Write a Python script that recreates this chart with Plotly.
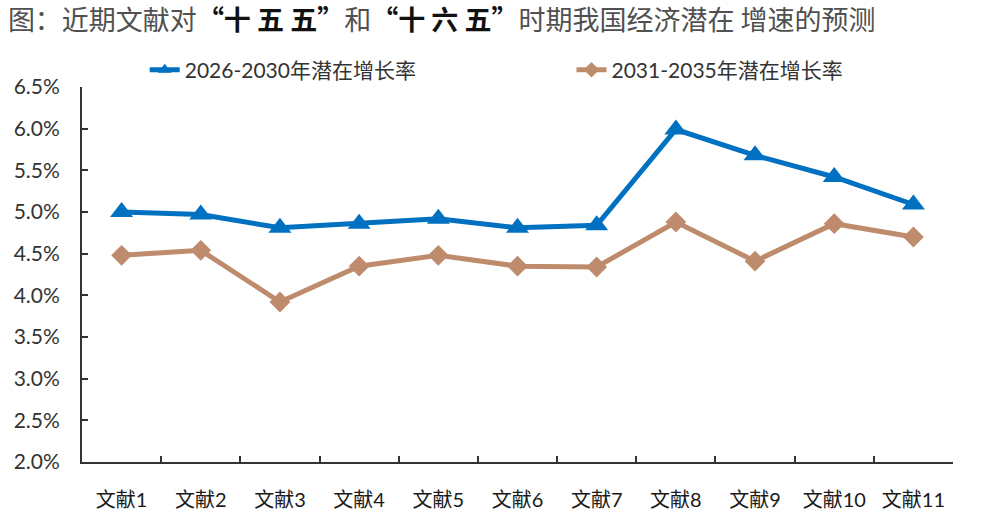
import plotly.graph_objects as go

categories = ["文献1", "文献2", "文献3", "文献4", "文献5", "文献6", "文献7", "文献8", "文献9", "文献10", "文献11"]
series_2026_2030 = [5.00, 4.97, 4.81, 4.86, 4.92, 4.81, 4.84, 5.99, 5.68, 5.42, 5.09]
series_2031_2035 = [4.48, 4.54, 3.92, 4.35, 4.48, 4.35, 4.34, 4.88, 4.41, 4.86, 4.70]
name_a = "2026-2030年潜在增长率"
name_b = "2031-2035年潜在增长率"
y_ticks = [2.0, 2.5, 3.0, 3.5, 4.0, 4.5, 5.0, 5.5, 6.0, 6.5]

BLUE = "#0070C0"
BROWN = "#BF8B6D"
FONT = "Lato, 'Noto Sans CJK SC', sans-serif"

fig = go.Figure()
fig.add_trace(go.Scatter(
    x=categories, y=[v / 100 for v in series_2026_2030], name=name_a,
    mode="lines+markers",
    line=dict(color=BLUE, width=5),
    marker=dict(symbol="triangle-up", size=20, color=BLUE),
    legend="legend",
))
fig.add_trace(go.Scatter(
    x=categories, y=[v / 100 for v in series_2031_2035], name=name_b,
    mode="lines+markers",
    line=dict(color=BROWN, width=5),
    marker=dict(symbol="diamond", size=16, color=BROWN),
    legend="legend2",
))

title_text = ("图：近期文献对<b style='color:#111'>“十 五 五”</b>和<b style='color:#111'>“十 六 五”</b>"
              "时期我国经济潜在 增速的预测")

legend_common = dict(orientation="h", yanchor="middle", xanchor="left",
                     font=dict(family=FONT, size=21, color="#333333"),
                     bgcolor="rgba(0,0,0,0)", itemsizing="constant")

fig.update_layout(
    width=985, height=515,
    paper_bgcolor="white", plot_bgcolor="white",
    margin=dict(l=82, r=32, t=87, b=53, autoexpand=False),
    font=dict(family=FONT, size=18, color="#333333"),
    title=dict(text=title_text, x=0.008, xanchor="left", y=0.96, yanchor="middle",
               font=dict(family="'Noto Sans CJK SC', sans-serif", size=27, color="#505050")),
    showlegend=True,
    legend=dict(x=0.072, y=1.045, **legend_common),
    legend2=dict(x=0.562, y=1.045, **legend_common),
    xaxis=dict(
        type="category", range=[-0.5, 10.5], automargin=False,
        showline=True, linecolor="#333333", linewidth=2,
        ticks="inside", tickson="boundaries", ticklen=6, tickcolor="#333333", tickwidth=2,
        showgrid=False, zeroline=False,
        ticklabelstandoff=19,
        tickfont=dict(family=FONT, size=20, color="#1a1a1a"),
    ),
    yaxis=dict(
        range=[0.02, 0.065], tickvals=[v / 100 for v in y_ticks], automargin=False,
        tickformat=".1%",
        showline=True, linecolor="#333333", linewidth=2,
        ticks="inside", ticklen=6, tickcolor="#333333", tickwidth=2,
        showgrid=False, zeroline=False,
        ticklabelstandoff=16,
        tickfont=dict(family=FONT, size=21, color="#333333"),
    ),
)

fig.write_html("out.html", config={"displayModeBar": False},
               post_script="document.body.style.margin='0';")
